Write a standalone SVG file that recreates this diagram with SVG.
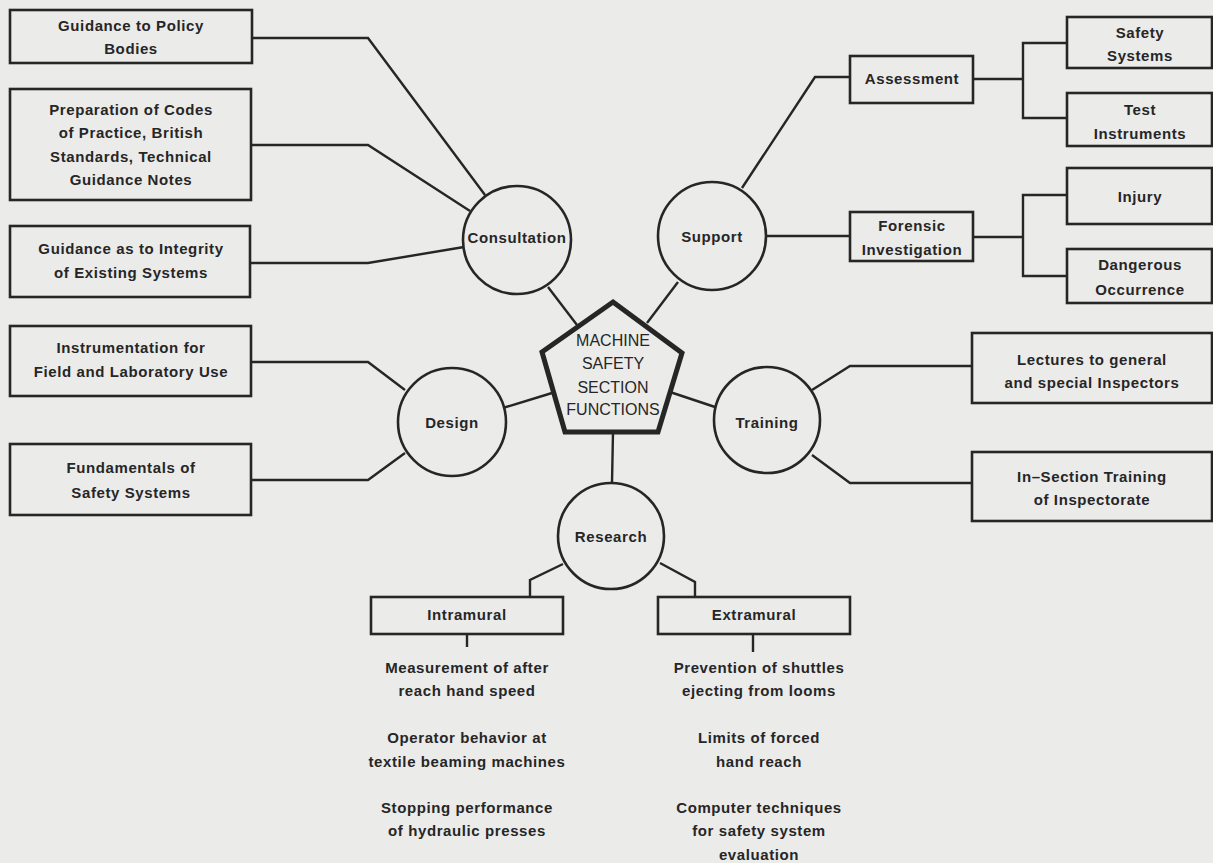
<svg xmlns="http://www.w3.org/2000/svg" width="1213" height="863" viewBox="0 0 1213 863">
<style>
.bg{fill:#ebebea}
.box{fill:none;stroke:#262626;stroke-width:2.6}
.circ{fill:none;stroke:#262626;stroke-width:2.6}
.pent{fill:none;stroke:#262626;stroke-width:5;stroke-linejoin:miter}
.ln{fill:none;stroke:#262626;stroke-width:2.4;stroke-linejoin:miter}
text{font-family:"Liberation Sans",Arial,sans-serif;font-size:15px;font-weight:bold;fill:#262626;text-anchor:middle;letter-spacing:0.6px}
.pt{font-weight:normal;font-size:16px;letter-spacing:0}
</style>
<rect class="bg" x="0" y="0" width="1213" height="863"/>
<g id="connectors">
<polyline class="ln" points="252,38 368,38 485,195"/>
<polyline class="ln" points="251,145 368,145 470,211"/>
<polyline class="ln" points="250,263 368,263 464,247"/>
<polyline class="ln" points="251,362 368,362 405,390"/>
<polyline class="ln" points="251,480 368,480 405,453"/>
<line class="ln" x1="548" y1="287" x2="577" y2="325"/>
<line class="ln" x1="678" y1="282" x2="647" y2="323"/>
<line class="ln" x1="503" y1="408" x2="552" y2="393"/>
<line class="ln" x1="670" y1="392" x2="715" y2="407"/>
<line class="ln" x1="613" y1="432" x2="612" y2="483"/>
<polyline class="ln" points="742,188 815,77 850,77"/>
<line class="ln" x1="766" y1="236" x2="850" y2="236"/>
<polyline class="ln" points="973,79 1023,79"/>
<polyline class="ln" points="1067,43 1023,43 1023,118 1067,118"/>
<polyline class="ln" points="973,237 1023,237"/>
<polyline class="ln" points="1067,195 1023,195 1023,276 1067,276"/>
<polyline class="ln" points="812,390 850,366 972,366"/>
<polyline class="ln" points="812,455 850,483 972,483"/>
<polyline class="ln" points="563,564 530,580 530,597"/>
<polyline class="ln" points="660,563 695,582 695,597"/>
<line class="ln" x1="467" y1="634" x2="467" y2="647"/>
<line class="ln" x1="753" y1="634" x2="753" y2="652"/>
</g>
<g id="n-policy"><rect class="box" x="10" y="10" width="242" height="53"/><text x="131" y="31">Guidance to Policy</text><text x="131" y="54">Bodies</text></g>
<g id="n-codes"><rect class="box" x="10" y="89" width="241" height="111"/><text x="131" y="115">Preparation of Codes</text><text x="131" y="138">of Practice, British</text><text x="131" y="162">Standards, Technical</text><text x="131" y="185">Guidance Notes</text></g>
<g id="n-integrity"><rect class="box" x="10" y="226" width="240" height="71"/><text x="131" y="254">Guidance as to Integrity</text><text x="131" y="278">of Existing Systems</text></g>
<g id="n-instr"><rect class="box" x="10" y="326" width="241" height="70"/><text x="131" y="353">Instrumentation for</text><text x="131" y="377">Field and Laboratory Use</text></g>
<g id="n-fund"><rect class="box" x="10" y="444" width="241" height="71"/><text x="131" y="473">Fundamentals of</text><text x="131" y="498">Safety Systems</text></g>
<g id="n-consultation"><circle class="circ" cx="517" cy="240" r="54"/><text x="517" y="243">Consultation</text></g>
<g id="n-support"><circle class="circ" cx="712" cy="236" r="54"/><text x="712" y="242">Support</text></g>
<g id="n-design"><circle class="circ" cx="452" cy="422" r="54"/><text x="452" y="428">Design</text></g>
<g id="n-training"><circle class="circ" cx="767" cy="420" r="53"/><text x="767" y="428">Training</text></g>
<g id="n-research"><circle class="circ" cx="611" cy="536" r="53"/><text x="611" y="542">Research</text></g>
<g id="n-center"><polygon class="pent" points="613,302 682,353 658,432 565,432 542,352"/><text class="pt" x="613" y="346">MACHINE</text><text class="pt" x="613" y="369">SAFETY</text><text class="pt" x="613" y="393">SECTION</text><text class="pt" x="613" y="415">FUNCTIONS</text></g>
<g id="n-assess"><rect class="box" x="850" y="56" width="123" height="47"/><text x="912" y="84">Assessment</text></g>
<g id="n-safsys"><rect class="box" x="1067" y="17" width="145" height="51"/><text x="1140" y="38">Safety</text><text x="1140" y="61">Systems</text></g>
<g id="n-testinst"><rect class="box" x="1067" y="93" width="145" height="53"/><text x="1140" y="115">Test</text><text x="1140" y="139">Instruments</text></g>
<g id="n-forensic"><rect class="box" x="850" y="212" width="123" height="49"/><text x="912" y="231">Forensic</text><text x="912" y="255">Investigation</text></g>
<g id="n-injury"><rect class="box" x="1067" y="168" width="145" height="56"/><text x="1140" y="202">Injury</text></g>
<g id="n-danger"><rect class="box" x="1067" y="249" width="145" height="54"/><text x="1140" y="270">Dangerous</text><text x="1140" y="295">Occurrence</text></g>
<g id="n-lectures"><rect class="box" x="972" y="333" width="240" height="70"/><text x="1092" y="365">Lectures to general</text><text x="1092" y="388">and special Inspectors</text></g>
<g id="n-insection"><rect class="box" x="972" y="452" width="240" height="69"/><text x="1092" y="482">In–Section Training</text><text x="1092" y="505">of Inspectorate</text></g>
<g id="n-intra"><rect class="box" x="371" y="597" width="192" height="37"/><text x="467" y="620">Intramural</text></g>
<g id="n-extra"><rect class="box" x="658" y="597" width="192" height="37"/><text x="754" y="620">Extramural</text></g>
<g id="n-intra-items"><text x="467" y="673">Measurement of after</text><text x="467" y="696">reach hand speed</text><text x="467" y="743">Operator behavior at</text><text x="467" y="767">textile beaming machines</text><text x="467" y="813">Stopping performance</text><text x="467" y="836">of hydraulic presses</text></g>
<g id="n-extra-items"><text x="759" y="673">Prevention of shuttles</text><text x="759" y="696">ejecting from looms</text><text x="759" y="743">Limits of forced</text><text x="759" y="767">hand reach</text><text x="759" y="813">Computer techniques</text><text x="759" y="836">for safety system</text><text x="759" y="860">evaluation</text></g>
</svg>
